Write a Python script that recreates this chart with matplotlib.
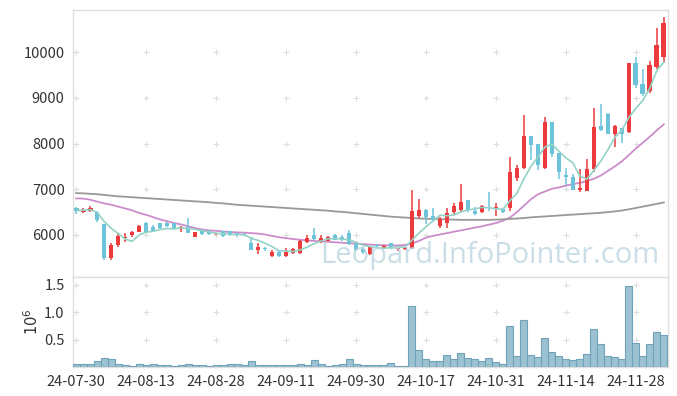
import matplotlib
matplotlib.use("Agg")
import matplotlib.pyplot as plt
import numpy as np
import pandas as pd

plt.rcParams['font.family'] = ['Noto Sans CJK KR', 'DejaVu Sans']

# daily candles (24-07-30 .. 24-12-04, trading days)
opens = [6600, 6510, 6530, 6500, 6240, 5490, 5770, 5930, 6000, 6070,
         6270, 6180, 6255, 6260, 6255, 6130, 6180, 5965, 6110, 6090,
         6015, 6090, 6085, 6040, 6030, 5820, 5675, 5710, 5530, 5635,
         5550, 5600, 5600, 5840, 6000, 5840, 5870, 6000, 5950, 6050,
         5800, 5700, 5580, 5780, 5710, 5820, 5690, 5700, 5710, 6420,
         6545, 6415, 6205, 6255, 6500, 6550, 6765, 6525, 6500, 6620,
         6590, 6570, 6585, 7255, 7470, 8165, 7990, 7470, 8475, 7785,
         7310, 7260, 6985, 6970, 7435, 8385, 8645, 8210, 8340, 8260,
         9755, 9300, 9155, 9665, 9900]
highs = [6620, 6580, 6640, 6510, 6250, 5830, 6020, 6040, 6090, 6210,
         6290, 6210, 6270, 6280, 6270, 6190, 6365, 6070, 6120, 6100,
         6050, 6095, 6090, 6050, 6040, 5960, 5820, 5740, 5670, 5660,
         5720, 5720, 5880, 5990, 6145, 5990, 5970, 6020, 5990, 6100,
         5830, 5740, 5760, 5800, 5780, 5830, 5720, 5730, 6985, 6790,
         6560, 6590, 6390, 6590, 6690, 7110, 6770, 6620, 6660, 6930,
         6690, 6580, 7710, 7530, 8620, 8170, 8000, 8590, 8480, 7800,
         7460, 7330, 7435, 7655, 8770, 8865, 8660, 8400, 8350, 9770,
         9885, 9620, 9810, 10520, 10760]
lows = [6460, 6480, 6500, 6290, 5450, 5460, 5745, 5850, 5960, 6060,
        6040, 6060, 6120, 6170, 6120, 6070, 6040, 5960, 5990, 5990,
        5990, 5960, 5970, 5965, 5980, 5660, 5590, 5640, 5510, 5520,
        5520, 5590, 5590, 5830, 5900, 5820, 5860, 5880, 5860, 5790,
        5640, 5580, 5570, 5730, 5690, 5700, 5650, 5670, 5700, 6380,
        6250, 6310, 6150, 6150, 6460, 6500, 6500, 6440, 6470, 6520,
        6420, 6480, 6530, 7180, 7450, 7640, 7420, 7450, 7700, 7220,
        7090, 6980, 6950, 6960, 7370, 8280, 8200, 7920, 8020, 8220,
        9220, 9050, 9100, 9620, 9790]
closes = [6530, 6550, 6580, 6330, 5490, 5780, 5985, 5965, 6070, 6200,
          6075, 6095, 6150, 6185, 6150, 6180, 6050, 6060, 6020, 6020,
          6040, 5985, 6000, 6000, 5990, 5670, 5745, 5690, 5635, 5530,
          5635, 5695, 5870, 5930, 5905, 5930, 5950, 5890, 5890, 5800,
          5670, 5620, 5745, 5760, 5765, 5710, 5710, 5720, 6525, 6545,
          6400, 6330, 6350, 6475, 6635, 6730, 6550, 6455, 6640, 6600,
          6610, 6500, 7385, 7470, 8170, 7970, 7530, 8475, 7780, 7385,
          7260, 6985, 7035, 7435, 8355, 8295, 8210, 8385, 8210, 9755,
          9285, 9080, 9725, 10155, 10630]
volumes = [55e3, 55e3, 55e3, 110e3, 157e3, 144e3, 55e3, 30e3, 10e3, 55e3,
           30e3, 55e3, 30e3, 30e3, 10e3, 30e3, 55e3, 30e3, 30e3, 10e3,
           30e3, 30e3, 55e3, 55e3, 30e3, 110e3, 30e3, 30e3, 30e3, 30e3,
           30e3, 30e3, 55e3, 30e3, 126e3, 55e3, 10e3, 30e3, 55e3, 144e3,
           55e3, 30e3, 30e3, 30e3, 30e3, 72e3, 20e3, 20e3, 1120e3, 307e3,
           144e3, 110e3, 110e3, 217e3, 144e3, 253e3, 162e3, 144e3, 110e3, 162e3,
           84e3, 55e3, 753e3, 193e3, 848e3, 217e3, 175e3, 536e3, 271e3, 193e3,
           144e3, 126e3, 144e3, 229e3, 698e3, 427e3, 193e3, 175e3, 144e3, 1480e3,
           446e3, 193e3, 427e3, 645e3, 590e3]

# 20-day and long moving averages
ma20 = [6800, 6795, 6770, 6730, 6690, 6660, 6620, 6580, 6540, 6480,
        6440, 6390, 6340, 6300, 6260, 6230, 6190, 6150, 6120, 6100,
        6090, 6075, 6065, 6055, 6050, 6040, 6030, 6010, 5980, 5950,
        5930, 5910, 5895, 5880, 5870, 5860, 5850, 5840, 5830, 5820,
        5810, 5800, 5790, 5780, 5775, 5770, 5770, 5780, 5810, 5870,
        5940, 5980, 6010, 6040, 6070, 6100, 6130, 6160, 6190, 6225,
        6260, 6310, 6380, 6500, 6640, 6780, 6890, 6950, 7010, 7040,
        7080, 7110, 7140, 7180, 7230, 7300, 7400, 7500, 7610, 7750,
        7890, 8020, 8150, 8290, 8420]
ma_long = [6915, 6910, 6900, 6890, 6875, 6860, 6845, 6835, 6825, 6815,
           6805, 6795, 6785, 6775, 6765, 6755, 6745, 6735, 6725, 6715,
           6700, 6690, 6675, 6660, 6650, 6640, 6630, 6620, 6610, 6600,
           6590, 6580, 6570, 6560, 6550, 6540, 6530, 6515, 6505, 6490,
           6475, 6460, 6445, 6430, 6415, 6400, 6390, 6380, 6370, 6360,
           6355, 6350, 6345, 6340, 6335, 6330, 6330, 6330, 6330, 6330,
           6335, 6340, 6350, 6360, 6370, 6385, 6395, 6405, 6415, 6425,
           6435, 6445, 6455, 6465, 6475, 6485, 6500, 6515, 6535, 6560,
           6590, 6620, 6650, 6680, 6710]

tick_labels = ['24-07-30', '24-08-13', '24-08-28', '24-09-11', '24-09-30',
               '24-10-17', '24-10-31', '24-11-14', '24-11-28']
price_ticks = [6000, 7000, 8000, 9000, 10000]
vol_ticks = [0.5, 1.0, 1.5]

df = pd.DataFrame({'open': opens, 'high': highs, 'low': lows,
                   'close': closes, 'volume': volumes})
df['ma5'] = df['close'].rolling(5, min_periods=1).mean()
x = np.arange(len(df))
tick_pos = x[::10]

up_color = '#ec3a3d'
down_color = '#6cc3da'
grid_color = '#dedede'

fig = plt.figure(figsize=(6.77, 3.96), dpi=100)
ax = fig.add_axes([0.1078, 0.3005, 0.879, 0.6742])
axv = fig.add_axes([0.1078, 0.0732, 0.879, 0.2273], sharex=ax)

# candles
up = df['close'] >= df['open']
colors = np.where(up, up_color, down_color)
ax.vlines(x, df['low'], df['high'], colors=colors, linewidth=1.1, zorder=3)
body_low = np.minimum(df['open'], df['close'])
body_h = np.maximum(np.abs(df['close'] - df['open']), 12)
ax.bar(x, body_h, bottom=body_low, width=0.68, color=colors, linewidth=0, zorder=4)

ax.plot(x, df['ma5'], color='#93d2c6', linewidth=1.2, zorder=5)
ax.plot(x, ma20, color='#cc8ccb', linewidth=1.3, zorder=2)
ax.plot(x, ma_long, color='#999999', linewidth=1.3, zorder=2)

ax.set_ylim(5080, 10920)
ax.set_yticks(price_ticks)
ax.set_yticklabels([str(v) for v in price_ticks])

# volume
axv.bar(x, df['volume'] / 1e6, width=1.0, color='#9cc1d1',
        edgecolor='#6fa3bb', linewidth=0.8, zorder=3)
axv.set_ylim(0, 1.64)
axv.set_yticks(vol_ticks)
axv.set_yticklabels(['0.5', '1.0', '1.5'])
axv.set_ylabel('$10^6$', fontsize=10.5, color='#333333', labelpad=2)

ax.set_xlim(-0.45, 84.6)
axv.set_xticks(tick_pos)
axv.set_xticklabels(tick_labels)
plt.setp(ax.get_xticklabels(), visible=False)

# "+" grid marks
for a, yt in ((ax, price_ticks), (axv, vol_ticks)):
    gx, gy = np.meshgrid(tick_pos, yt)
    a.scatter(gx.ravel(), gy.ravel(), marker='+', s=20, color=grid_color,
              linewidths=0.8, zorder=1)
    for s in a.spines.values():
        s.set_color(grid_color)
        s.set_linewidth(1.0)
    a.tick_params(length=0, labelsize=10.5, colors='#333333', pad=6)

ax.text(0.70, 0.08, 'Leopard.InfoPointer.com', transform=ax.transAxes,
        ha='center', va='center', fontsize=21, color='#b9d3e0', alpha=0.75,
        family='Open Sans', zorder=6)

fig.savefig('out.png', dpi=100)
